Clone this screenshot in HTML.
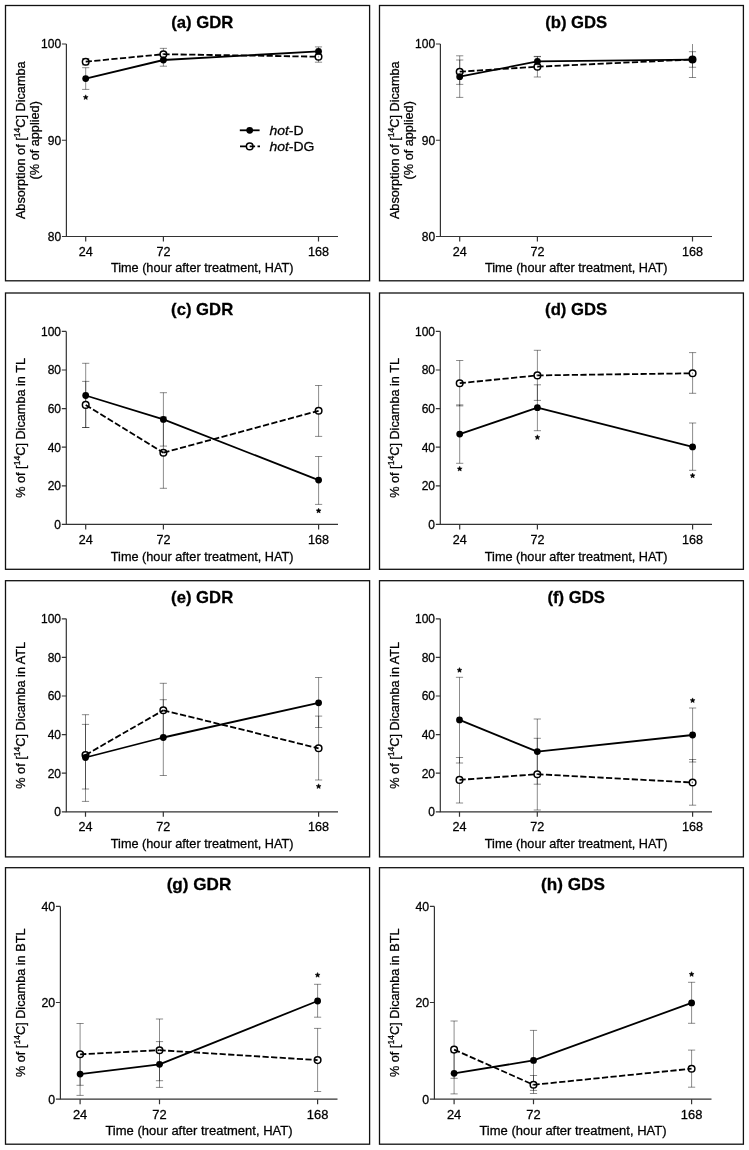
<!DOCTYPE html>
<html><head><meta charset="utf-8"><style>
html,body{margin:0;padding:0;background:#fff;}
svg{display:block;will-change:transform;}
text{font-family:"Liberation Sans", sans-serif;fill:#000;stroke:#000;stroke-width:0.28px;}
</style></head><body>
<svg width="749" height="1150" viewBox="0 0 749 1150">
<rect width="749" height="1150" fill="#fff"/>
<rect x="5.5" y="5.5" width="364.1" height="275.3" fill="none" stroke="#111" stroke-width="1.3"/>
<text x="202.2" y="28" text-anchor="middle" font-size="16.7" font-weight="bold">(a) GDR</text>
<path d="M66.4 44V236.5H338" fill="none" stroke="#333" stroke-width="1.2"/>
<text x="61.1" y="48.4" text-anchor="end" font-size="12">100</text>
<text x="61.1" y="144.65" text-anchor="end" font-size="12">90</text>
<text x="61.1" y="240.9" text-anchor="end" font-size="12">80</text>
<text x="85.7" y="256.1" text-anchor="middle" font-size="12.6">24</text>
<text x="163.4" y="256.1" text-anchor="middle" font-size="12.6">72</text>
<text x="318.5" y="256.1" text-anchor="middle" font-size="12.6">168</text>
<path d="M61.9 44H66.4M61.9 140.25H66.4M61.9 236.5H66.4M85.7 236.5V241.5M163.4 236.5V241.5M318.5 236.5V241.5" stroke="#333" stroke-width="1.2"/>
<text x="202.2" y="271.8" text-anchor="middle" font-size="12.7">Time (hour after treatment, HAT)</text>
<text transform="translate(24.9,140.25) rotate(-90)" text-anchor="middle" font-size="12.7">Absorption of [<tspan font-size="8.64" dy="-4.5">14</tspan><tspan dy="4.5">C] Dicamba</tspan></text>
<text transform="translate(39.3,140.25) rotate(-90)" text-anchor="middle" font-size="12.7">(% of applied)</text>
<path d="M85.7 67.7V89.4M82.1 67.7H89.3M82.1 89.4H89.3M163.4 53.8V66.2M159.8 53.8H167M159.8 66.2H167M318.5 46.9V55.9M314.9 46.9H322.1M314.9 55.9H322.1" stroke="#000" stroke-opacity="0.45" stroke-width="1.0" fill="none"/>
<path d="M85.7 58.5V64.9M82.1 58.5H89.3M82.1 64.9H89.3M163.4 48.35V60.05M159.8 48.35H167M159.8 60.05H167M318.5 51.2V62.2M314.9 51.2H322.1M314.9 62.2H322.1" stroke="#000" stroke-opacity="0.45" stroke-width="1.0" fill="none"/>
<circle cx="85.7" cy="61.7" r="3.3" fill="#fff" stroke="#000" stroke-width="1.5"/>
<circle cx="163.4" cy="54.2" r="3.3" fill="#fff" stroke="#000" stroke-width="1.5"/>
<circle cx="318.5" cy="56.7" r="3.3" fill="#fff" stroke="#000" stroke-width="1.5"/>
<path d="M85.7 61.7L163.4 54.2" stroke="#000" stroke-width="1.8" stroke-dasharray="6.2 2.4"/>
<path d="M163.4 54.2L318.5 56.7" stroke="#000" stroke-width="1.8" stroke-dasharray="6.2 2.4"/>
<circle cx="85.7" cy="78.6" r="3.4" fill="#000"/>
<circle cx="163.4" cy="60" r="3.4" fill="#000"/>
<circle cx="318.5" cy="51.4" r="3.4" fill="#000"/>
<path d="M85.7 78.6L163.4 60" stroke="#000" stroke-width="1.8"/>
<path d="M163.4 60L318.5 51.4" stroke="#000" stroke-width="1.8"/>
<polygon points="85.7,94.8 86.41,96.43 88.17,96.6 86.84,97.77 87.23,99.5 85.7,98.6 84.17,99.5 84.56,97.77 83.23,96.6 84.99,96.43" fill="#000" stroke="#000" stroke-width="0.5" stroke-linejoin="round"/>
<rect x="379.5" y="5.5" width="363.9" height="275.3" fill="none" stroke="#111" stroke-width="1.3"/>
<text x="576.2" y="28" text-anchor="middle" font-size="16.7" font-weight="bold">(b) GDS</text>
<path d="M440.4 44V236.5H712" fill="none" stroke="#333" stroke-width="1.2"/>
<text x="435.1" y="48.4" text-anchor="end" font-size="12">100</text>
<text x="435.1" y="144.65" text-anchor="end" font-size="12">90</text>
<text x="435.1" y="240.9" text-anchor="end" font-size="12">80</text>
<text x="459.7" y="256.1" text-anchor="middle" font-size="12.6">24</text>
<text x="537.4" y="256.1" text-anchor="middle" font-size="12.6">72</text>
<text x="692.5" y="256.1" text-anchor="middle" font-size="12.6">168</text>
<path d="M435.9 44H440.4M435.9 140.25H440.4M435.9 236.5H440.4M459.7 236.5V241.5M537.4 236.5V241.5M692.5 236.5V241.5" stroke="#333" stroke-width="1.2"/>
<text x="576.2" y="271.8" text-anchor="middle" font-size="12.7">Time (hour after treatment, HAT)</text>
<text transform="translate(398.9,140.25) rotate(-90)" text-anchor="middle" font-size="12.7">Absorption of [<tspan font-size="8.64" dy="-4.5">14</tspan><tspan dy="4.5">C] Dicamba</tspan></text>
<text transform="translate(413.3,140.25) rotate(-90)" text-anchor="middle" font-size="12.7">(% of applied)</text>
<path d="M459.7 55.8V97.4M456.1 55.8H463.3M456.1 97.4H463.3M537.4 56.7V66.1M533.8 56.7H541M533.8 66.1H541M692.5 44V77.5M688.9 77.5H696.1" stroke="#000" stroke-opacity="0.45" stroke-width="1.0" fill="none"/>
<path d="M459.7 60V84.4M456.1 60H463.3M456.1 84.4H463.3M537.4 56.4V77M533.8 56.4H541M533.8 77H541M692.5 51.7V67.25M688.9 51.7H696.1M688.9 67.25H696.1" stroke="#000" stroke-opacity="0.45" stroke-width="1.0" fill="none"/>
<circle cx="459.7" cy="71.7" r="3.3" fill="#fff" stroke="#000" stroke-width="1.5"/>
<circle cx="537.4" cy="66.7" r="3.3" fill="#fff" stroke="#000" stroke-width="1.5"/>
<circle cx="692.5" cy="59.5" r="3.3" fill="#fff" stroke="#000" stroke-width="1.5"/>
<path d="M459.7 71.7L537.4 66.7" stroke="#000" stroke-width="1.8" stroke-dasharray="6.2 2.4"/>
<path d="M537.4 66.7L692.5 59.5" stroke="#000" stroke-width="1.8" stroke-dasharray="6.2 2.4"/>
<circle cx="459.7" cy="76.7" r="3.4" fill="#000"/>
<circle cx="537.4" cy="61.4" r="3.4" fill="#000"/>
<circle cx="692.5" cy="59.6" r="3.4" fill="#000"/>
<path d="M459.7 76.7L537.4 61.4" stroke="#000" stroke-width="1.8"/>
<path d="M537.4 61.4L692.5 59.6" stroke="#000" stroke-width="1.8"/>
<rect x="5.5" y="293" width="364.1" height="276.3" fill="none" stroke="#111" stroke-width="1.3"/>
<text x="202.15" y="315.3" text-anchor="middle" font-size="16.7" font-weight="bold">(c) GDR</text>
<path d="M66.3 331.4V524.4H338" fill="none" stroke="#333" stroke-width="1.2"/>
<text x="61" y="335.8" text-anchor="end" font-size="12">100</text>
<text x="61" y="374.4" text-anchor="end" font-size="12">80</text>
<text x="61" y="413" text-anchor="end" font-size="12">60</text>
<text x="61" y="451.6" text-anchor="end" font-size="12">40</text>
<text x="61" y="490.2" text-anchor="end" font-size="12">20</text>
<text x="61" y="528.8" text-anchor="end" font-size="12">0</text>
<text x="85.7" y="544" text-anchor="middle" font-size="12.6">24</text>
<text x="163.4" y="544" text-anchor="middle" font-size="12.6">72</text>
<text x="318.6" y="544" text-anchor="middle" font-size="12.6">168</text>
<path d="M61.8 331.4H66.3M61.8 370H66.3M61.8 408.6H66.3M61.8 447.2H66.3M61.8 485.8H66.3M61.8 524.4H66.3M85.7 524.4V529.4M163.4 524.4V529.4M318.6 524.4V529.4" stroke="#333" stroke-width="1.2"/>
<text x="202.15" y="560.6" text-anchor="middle" font-size="12.7">Time (hour after treatment, HAT)</text>
<text transform="translate(24.9,427.9) rotate(-90)" text-anchor="middle" font-size="12.7">% of [<tspan font-size="8.64" dy="-4.5">14</tspan><tspan dy="4.5">C] Dicamba in TL</tspan></text>
<path d="M85.7 363.3V427.5M82.1 363.3H89.3M82.1 427.5H89.3M163.4 392.7V446.1M159.8 392.7H167M159.8 446.1H167M318.6 456.5V504.4M315 456.5H322.2M315 504.4H322.2" stroke="#000" stroke-opacity="0.45" stroke-width="1.0" fill="none"/>
<path d="M85.7 381.4V427.5M82.1 381.4H89.3M82.1 427.5H89.3M163.4 417.1V488.3M159.8 417.1H167M159.8 488.3H167M318.6 385.5V436.4M315 385.5H322.2M315 436.4H322.2" stroke="#000" stroke-opacity="0.45" stroke-width="1.0" fill="none"/>
<circle cx="85.7" cy="404.9" r="3.3" fill="#fff" stroke="#000" stroke-width="1.5"/>
<circle cx="163.4" cy="452.7" r="3.3" fill="#fff" stroke="#000" stroke-width="1.5"/>
<circle cx="318.6" cy="410.8" r="3.3" fill="#fff" stroke="#000" stroke-width="1.5"/>
<path d="M85.7 404.9L163.4 452.7" stroke="#000" stroke-width="1.8" stroke-dasharray="6.2 2.4"/>
<path d="M163.4 452.7L318.6 410.8" stroke="#000" stroke-width="1.8" stroke-dasharray="6.2 2.4"/>
<circle cx="85.7" cy="395.5" r="3.4" fill="#000"/>
<circle cx="163.4" cy="419.4" r="3.4" fill="#000"/>
<circle cx="318.6" cy="480.1" r="3.4" fill="#000"/>
<path d="M85.7 395.5L163.4 419.4" stroke="#000" stroke-width="1.8"/>
<path d="M163.4 419.4L318.6 480.1" stroke="#000" stroke-width="1.8"/>
<polygon points="318.6,508.2 319.31,509.83 321.07,510 319.74,511.17 320.13,512.9 318.6,512 317.07,512.9 317.46,511.17 316.13,510 317.89,509.83" fill="#000" stroke="#000" stroke-width="0.5" stroke-linejoin="round"/>
<rect x="379.5" y="293" width="363.9" height="276.3" fill="none" stroke="#111" stroke-width="1.3"/>
<text x="576.15" y="315.3" text-anchor="middle" font-size="16.7" font-weight="bold">(d) GDS</text>
<path d="M440.3 331.4V524.4H712" fill="none" stroke="#333" stroke-width="1.2"/>
<text x="435" y="335.8" text-anchor="end" font-size="12">100</text>
<text x="435" y="374.4" text-anchor="end" font-size="12">80</text>
<text x="435" y="413" text-anchor="end" font-size="12">60</text>
<text x="435" y="451.6" text-anchor="end" font-size="12">40</text>
<text x="435" y="490.2" text-anchor="end" font-size="12">20</text>
<text x="435" y="528.8" text-anchor="end" font-size="12">0</text>
<text x="459.7" y="544" text-anchor="middle" font-size="12.6">24</text>
<text x="537.4" y="544" text-anchor="middle" font-size="12.6">72</text>
<text x="692.6" y="544" text-anchor="middle" font-size="12.6">168</text>
<path d="M435.8 331.4H440.3M435.8 370H440.3M435.8 408.6H440.3M435.8 447.2H440.3M435.8 485.8H440.3M435.8 524.4H440.3M459.7 524.4V529.4M537.4 524.4V529.4M692.6 524.4V529.4" stroke="#333" stroke-width="1.2"/>
<text x="576.15" y="560.6" text-anchor="middle" font-size="12.7">Time (hour after treatment, HAT)</text>
<text transform="translate(398.9,427.9) rotate(-90)" text-anchor="middle" font-size="12.7">% of [<tspan font-size="8.64" dy="-4.5">14</tspan><tspan dy="4.5">C] Dicamba in TL</tspan></text>
<path d="M459.7 404.9V463.3M456.1 404.9H463.3M456.1 463.3H463.3M537.4 384.8V430.7M533.8 384.8H541M533.8 430.7H541M692.6 423V470.3M689 423H696.2M689 470.3H696.2" stroke="#000" stroke-opacity="0.45" stroke-width="1.0" fill="none"/>
<path d="M459.7 360.5V405.9M456.1 360.5H463.3M456.1 405.9H463.3M537.4 350.3V400.4M533.8 350.3H541M533.8 400.4H541M692.6 352.6V393.3M689 352.6H696.2M689 393.3H696.2" stroke="#000" stroke-opacity="0.45" stroke-width="1.0" fill="none"/>
<circle cx="459.7" cy="383.2" r="3.3" fill="#fff" stroke="#000" stroke-width="1.5"/>
<circle cx="537.4" cy="375.4" r="3.3" fill="#fff" stroke="#000" stroke-width="1.5"/>
<circle cx="692.6" cy="373.3" r="3.3" fill="#fff" stroke="#000" stroke-width="1.5"/>
<path d="M459.7 383.2L537.4 375.4" stroke="#000" stroke-width="1.8" stroke-dasharray="6.2 2.4"/>
<path d="M537.4 375.4L692.6 373.3" stroke="#000" stroke-width="1.8" stroke-dasharray="6.2 2.4"/>
<circle cx="459.7" cy="434.1" r="3.4" fill="#000"/>
<circle cx="537.4" cy="407.7" r="3.4" fill="#000"/>
<circle cx="692.6" cy="446.9" r="3.4" fill="#000"/>
<path d="M459.7 434.1L537.4 407.7" stroke="#000" stroke-width="1.8"/>
<path d="M537.4 407.7L692.6 446.9" stroke="#000" stroke-width="1.8"/>
<polygon points="459.7,466.3 460.41,467.93 462.17,468.1 460.84,469.27 461.23,471 459.7,470.1 458.17,471 458.56,469.27 457.23,468.1 458.99,467.93" fill="#000" stroke="#000" stroke-width="0.5" stroke-linejoin="round"/>
<polygon points="537.4,434.8 538.11,436.43 539.87,436.6 538.54,437.77 538.93,439.5 537.4,438.6 535.87,439.5 536.26,437.77 534.93,436.6 536.69,436.43" fill="#000" stroke="#000" stroke-width="0.5" stroke-linejoin="round"/>
<polygon points="692.6,473.1 693.31,474.73 695.07,474.9 693.74,476.07 694.13,477.8 692.6,476.9 691.07,477.8 691.46,476.07 690.13,474.9 691.89,474.73" fill="#000" stroke="#000" stroke-width="0.5" stroke-linejoin="round"/>
<rect x="5.5" y="580.7" width="364.1" height="276.2" fill="none" stroke="#111" stroke-width="1.3"/>
<text x="202.15" y="602.8" text-anchor="middle" font-size="16.7" font-weight="bold">(e) GDR</text>
<path d="M66.3 618.8V811.8H338" fill="none" stroke="#333" stroke-width="1.2"/>
<text x="61" y="623.2" text-anchor="end" font-size="12">100</text>
<text x="61" y="661.8" text-anchor="end" font-size="12">80</text>
<text x="61" y="700.4" text-anchor="end" font-size="12">60</text>
<text x="61" y="739" text-anchor="end" font-size="12">40</text>
<text x="61" y="777.6" text-anchor="end" font-size="12">20</text>
<text x="61" y="816.2" text-anchor="end" font-size="12">0</text>
<text x="85.5" y="831.4" text-anchor="middle" font-size="12.6">24</text>
<text x="163.3" y="831.4" text-anchor="middle" font-size="12.6">72</text>
<text x="318.6" y="831.4" text-anchor="middle" font-size="12.6">168</text>
<path d="M61.8 618.8H66.3M61.8 657.4H66.3M61.8 696H66.3M61.8 734.6H66.3M61.8 773.2H66.3M61.8 811.8H66.3M85.5 811.8V816.8M163.3 811.8V816.8M318.6 811.8V816.8" stroke="#333" stroke-width="1.2"/>
<text x="202.15" y="847.6" text-anchor="middle" font-size="12.7">Time (hour after treatment, HAT)</text>
<text transform="translate(24.9,715.3) rotate(-90)" text-anchor="middle" font-size="12.7">% of [<tspan font-size="8.64" dy="-4.5">14</tspan><tspan dy="4.5">C] Dicamba in ATL</tspan></text>
<path d="M85.5 714.7V801.4M81.9 714.7H89.1M81.9 801.4H89.1M163.3 699.7V775.5M159.7 699.7H166.9M159.7 775.5H166.9M318.6 677.5V727.5M315 677.5H322.2M315 727.5H322.2" stroke="#000" stroke-opacity="0.45" stroke-width="1.0" fill="none"/>
<path d="M85.5 724.4V789M81.9 724.4H89.1M81.9 789H89.1M163.3 683.3V737.3M159.7 683.3H166.9M159.7 737.3H166.9M318.6 716.1V780M315 716.1H322.2M315 780H322.2" stroke="#000" stroke-opacity="0.45" stroke-width="1.0" fill="none"/>
<circle cx="85.5" cy="755" r="3.3" fill="#fff" stroke="#000" stroke-width="1.5"/>
<circle cx="163.3" cy="710.3" r="3.3" fill="#fff" stroke="#000" stroke-width="1.5"/>
<circle cx="318.6" cy="748.3" r="3.3" fill="#fff" stroke="#000" stroke-width="1.5"/>
<path d="M85.5 755L163.3 710.3" stroke="#000" stroke-width="1.8" stroke-dasharray="6.2 2.4"/>
<path d="M163.3 710.3L318.6 748.3" stroke="#000" stroke-width="1.8" stroke-dasharray="6.2 2.4"/>
<circle cx="85.5" cy="757.5" r="3.4" fill="#000"/>
<circle cx="163.3" cy="737.5" r="3.4" fill="#000"/>
<circle cx="318.6" cy="702.8" r="3.4" fill="#000"/>
<path d="M85.5 757.5L163.3 737.5" stroke="#000" stroke-width="1.8"/>
<path d="M163.3 737.5L318.6 702.8" stroke="#000" stroke-width="1.8"/>
<polygon points="318.6,783.8 319.31,785.43 321.07,785.6 319.74,786.77 320.13,788.5 318.6,787.6 317.07,788.5 317.46,786.77 316.13,785.6 317.89,785.43" fill="#000" stroke="#000" stroke-width="0.5" stroke-linejoin="round"/>
<rect x="379.5" y="580.7" width="363.9" height="276.2" fill="none" stroke="#111" stroke-width="1.3"/>
<text x="576.15" y="602.8" text-anchor="middle" font-size="16.7" font-weight="bold">(f) GDS</text>
<path d="M440.3 618.8V811.8H712" fill="none" stroke="#333" stroke-width="1.2"/>
<text x="435" y="623.2" text-anchor="end" font-size="12">100</text>
<text x="435" y="661.8" text-anchor="end" font-size="12">80</text>
<text x="435" y="700.4" text-anchor="end" font-size="12">60</text>
<text x="435" y="739" text-anchor="end" font-size="12">40</text>
<text x="435" y="777.6" text-anchor="end" font-size="12">20</text>
<text x="435" y="816.2" text-anchor="end" font-size="12">0</text>
<text x="459.5" y="831.4" text-anchor="middle" font-size="12.6">24</text>
<text x="537.3" y="831.4" text-anchor="middle" font-size="12.6">72</text>
<text x="692.6" y="831.4" text-anchor="middle" font-size="12.6">168</text>
<path d="M435.8 618.8H440.3M435.8 657.4H440.3M435.8 696H440.3M435.8 734.6H440.3M435.8 773.2H440.3M435.8 811.8H440.3M459.5 811.8V816.8M537.3 811.8V816.8M692.6 811.8V816.8" stroke="#333" stroke-width="1.2"/>
<text x="576.15" y="847.6" text-anchor="middle" font-size="12.7">Time (hour after treatment, HAT)</text>
<text transform="translate(398.9,715.3) rotate(-90)" text-anchor="middle" font-size="12.7">% of [<tspan font-size="8.64" dy="-4.5">14</tspan><tspan dy="4.5">C] Dicamba in ATL</tspan></text>
<path d="M459.5 677.3V763M455.9 677.3H463.1M455.9 763H463.1M537.3 719V784.2M533.7 719H540.9M533.7 784.2H540.9M692.6 708V762M689 708H696.2M689 762H696.2" stroke="#000" stroke-opacity="0.45" stroke-width="1.0" fill="none"/>
<path d="M459.5 757.5V803M455.9 757.5H463.1M455.9 803H463.1M537.3 738.3V810M533.7 738.3H540.9M533.7 810H540.9M692.6 759.5V805.2M689 759.5H696.2M689 805.2H696.2" stroke="#000" stroke-opacity="0.45" stroke-width="1.0" fill="none"/>
<circle cx="459.5" cy="779.9" r="3.3" fill="#fff" stroke="#000" stroke-width="1.5"/>
<circle cx="537.3" cy="774.2" r="3.3" fill="#fff" stroke="#000" stroke-width="1.5"/>
<circle cx="692.6" cy="782.5" r="3.3" fill="#fff" stroke="#000" stroke-width="1.5"/>
<path d="M459.5 779.9L537.3 774.2" stroke="#000" stroke-width="1.8" stroke-dasharray="6.2 2.4"/>
<path d="M537.3 774.2L692.6 782.5" stroke="#000" stroke-width="1.8" stroke-dasharray="6.2 2.4"/>
<circle cx="459.5" cy="719.9" r="3.4" fill="#000"/>
<circle cx="537.3" cy="751.6" r="3.4" fill="#000"/>
<circle cx="692.6" cy="735" r="3.4" fill="#000"/>
<path d="M459.5 719.9L537.3 751.6" stroke="#000" stroke-width="1.8"/>
<path d="M537.3 751.6L692.6 735" stroke="#000" stroke-width="1.8"/>
<polygon points="459.5,667.6 460.21,669.23 461.97,669.4 460.64,670.57 461.03,672.3 459.5,671.4 457.97,672.3 458.36,670.57 457.03,669.4 458.79,669.23" fill="#000" stroke="#000" stroke-width="0.5" stroke-linejoin="round"/>
<polygon points="692.6,697.9 693.31,699.53 695.07,699.7 693.74,700.87 694.13,702.6 692.6,701.7 691.07,702.6 691.46,700.87 690.13,699.7 691.89,699.53" fill="#000" stroke="#000" stroke-width="0.5" stroke-linejoin="round"/>
<rect x="5.5" y="867.7" width="364.1" height="276.5" fill="none" stroke="#111" stroke-width="1.3"/>
<text transform="translate(198.95,890) scale(1.025,1)" text-anchor="middle" font-size="16.7" font-weight="bold">(g) GDR</text>
<path d="M60.4 906.4V1099.2H337.5" fill="none" stroke="#333" stroke-width="1.2"/>
<text transform="translate(55.1,910.8) scale(1.025,1)" text-anchor="end" font-size="12">40</text>
<text transform="translate(55.1,1006.9) scale(1.025,1)" text-anchor="end" font-size="12">20</text>
<text transform="translate(55.1,1103.6) scale(1.025,1)" text-anchor="end" font-size="12">0</text>
<text transform="translate(80.1,1118.8) scale(1.025,1)" text-anchor="middle" font-size="12.6">24</text>
<text transform="translate(159.5,1118.8) scale(1.025,1)" text-anchor="middle" font-size="12.6">72</text>
<text transform="translate(317.6,1118.8) scale(1.025,1)" text-anchor="middle" font-size="12.6">168</text>
<path d="M55.9 906.4H60.4M55.9 1002.5H60.4M55.9 1099.2H60.4M80.1 1099.2V1104.2M159.5 1099.2V1104.2M317.6 1099.2V1104.2" stroke="#333" stroke-width="1.2"/>
<text transform="translate(198.95,1134.6) scale(1.025,1)" text-anchor="middle" font-size="12.7">Time (hour after treatment, HAT)</text>
<text transform="translate(24.9,1002.8) rotate(-90)" text-anchor="middle" font-size="12.7">% of [<tspan font-size="8.64" dy="-4.5">14</tspan><tspan dy="4.5">C] Dicamba in BTL</tspan></text>
<path d="M80.1 1052.8V1095.4M76.5 1052.8H83.7M76.5 1095.4H83.7M159.5 1041.6V1087.4M155.9 1041.6H163.1M155.9 1087.4H163.1M317.6 984.3V1017.2M314 984.3H321.2M314 1017.2H321.2" stroke="#000" stroke-opacity="0.45" stroke-width="1.0" fill="none"/>
<path d="M80.1 1023.5V1085.3M76.5 1023.5H83.7M76.5 1085.3H83.7M159.5 1019V1080.7M155.9 1019H163.1M155.9 1080.7H163.1M317.6 1028.4V1091.5M314 1028.4H321.2M314 1091.5H321.2" stroke="#000" stroke-opacity="0.45" stroke-width="1.0" fill="none"/>
<circle cx="80.1" cy="1054.3" r="3.3" fill="#fff" stroke="#000" stroke-width="1.5"/>
<circle cx="159.5" cy="1050.2" r="3.3" fill="#fff" stroke="#000" stroke-width="1.5"/>
<circle cx="317.6" cy="1060.1" r="3.3" fill="#fff" stroke="#000" stroke-width="1.5"/>
<path d="M80.1 1054.3L159.5 1050.2" stroke="#000" stroke-width="1.8" stroke-dasharray="6.2 2.4"/>
<path d="M159.5 1050.2L317.6 1060.1" stroke="#000" stroke-width="1.8" stroke-dasharray="6.2 2.4"/>
<circle cx="80.1" cy="1074.1" r="3.4" fill="#000"/>
<circle cx="159.5" cy="1064.3" r="3.4" fill="#000"/>
<circle cx="317.6" cy="1001" r="3.4" fill="#000"/>
<path d="M80.1 1074.1L159.5 1064.3" stroke="#000" stroke-width="1.8"/>
<path d="M159.5 1064.3L317.6 1001" stroke="#000" stroke-width="1.8"/>
<polygon points="317.6,972.5 318.31,974.13 320.07,974.3 318.74,975.47 319.13,977.2 317.6,976.3 316.07,977.2 316.46,975.47 315.13,974.3 316.89,974.13" fill="#000" stroke="#000" stroke-width="0.5" stroke-linejoin="round"/>
<rect x="379.5" y="867.7" width="363.9" height="276.5" fill="none" stroke="#111" stroke-width="1.3"/>
<text transform="translate(572.95,890) scale(1.025,1)" text-anchor="middle" font-size="16.7" font-weight="bold">(h) GDS</text>
<path d="M434.4 906.4V1099.2H711.5" fill="none" stroke="#333" stroke-width="1.2"/>
<text transform="translate(429.1,910.8) scale(1.025,1)" text-anchor="end" font-size="12">40</text>
<text transform="translate(429.1,1006.9) scale(1.025,1)" text-anchor="end" font-size="12">20</text>
<text transform="translate(429.1,1103.6) scale(1.025,1)" text-anchor="end" font-size="12">0</text>
<text transform="translate(454.1,1118.8) scale(1.025,1)" text-anchor="middle" font-size="12.6">24</text>
<text transform="translate(533.5,1118.8) scale(1.025,1)" text-anchor="middle" font-size="12.6">72</text>
<text transform="translate(691.6,1118.8) scale(1.025,1)" text-anchor="middle" font-size="12.6">168</text>
<path d="M429.9 906.4H434.4M429.9 1002.5H434.4M429.9 1099.2H434.4M454.1 1099.2V1104.2M533.5 1099.2V1104.2M691.6 1099.2V1104.2" stroke="#333" stroke-width="1.2"/>
<text transform="translate(572.95,1134.6) scale(1.025,1)" text-anchor="middle" font-size="12.7">Time (hour after treatment, HAT)</text>
<text transform="translate(398.9,1002.8) rotate(-90)" text-anchor="middle" font-size="12.7">% of [<tspan font-size="8.64" dy="-4.5">14</tspan><tspan dy="4.5">C] Dicamba in BTL</tspan></text>
<path d="M454.1 1052.7V1093.9M450.5 1052.7H457.7M450.5 1093.9H457.7M533.5 1030.4V1090.4M529.9 1030.4H537.1M529.9 1090.4H537.1M691.6 982.3V1023.3M688 982.3H695.2M688 1023.3H695.2" stroke="#000" stroke-opacity="0.45" stroke-width="1.0" fill="none"/>
<path d="M454.1 1021V1078.3M450.5 1021H457.7M450.5 1078.3H457.7M533.5 1075.5V1093.5M529.9 1075.5H537.1M529.9 1093.5H537.1M691.6 1050.1V1087.2M688 1050.1H695.2M688 1087.2H695.2" stroke="#000" stroke-opacity="0.45" stroke-width="1.0" fill="none"/>
<circle cx="454.1" cy="1049.6" r="3.3" fill="#fff" stroke="#000" stroke-width="1.5"/>
<circle cx="533.5" cy="1084.8" r="3.3" fill="#fff" stroke="#000" stroke-width="1.5"/>
<circle cx="691.6" cy="1068.7" r="3.3" fill="#fff" stroke="#000" stroke-width="1.5"/>
<path d="M454.1 1049.6L533.5 1084.8" stroke="#000" stroke-width="1.8" stroke-dasharray="6.2 2.4"/>
<path d="M533.5 1084.8L691.6 1068.7" stroke="#000" stroke-width="1.8" stroke-dasharray="6.2 2.4"/>
<circle cx="454.1" cy="1073.3" r="3.4" fill="#000"/>
<circle cx="533.5" cy="1060.4" r="3.4" fill="#000"/>
<circle cx="691.6" cy="1002.9" r="3.4" fill="#000"/>
<path d="M454.1 1073.3L533.5 1060.4" stroke="#000" stroke-width="1.8"/>
<path d="M533.5 1060.4L691.6 1002.9" stroke="#000" stroke-width="1.8"/>
<polygon points="691.6,971.7 692.31,973.33 694.07,973.5 692.74,974.67 693.13,976.4 691.6,975.5 690.07,976.4 690.46,974.67 689.13,973.5 690.89,973.33" fill="#000" stroke="#000" stroke-width="0.5" stroke-linejoin="round"/>
<path d="M239.8 130.3H259.6" stroke="#000" stroke-width="1.8"/>
<circle cx="249.7" cy="130.3" r="3.4" fill="#000"/>
<path d="M240 146.4H249.7" stroke="#000" stroke-width="1.8" stroke-dasharray="6.2 2.4"/>
<circle cx="249.7" cy="146.4" r="3.3" fill="#fff" stroke="#000" stroke-width="1.5"/>
<path d="M249.7 146.4H260" stroke="#000" stroke-width="1.8" stroke-dasharray="5.4 2.4"/>
<text transform="translate(269.4,135.2) scale(1.06,1)" font-size="13.2"><tspan font-style="italic">hot</tspan>-D</text>
<text transform="translate(269.4,150.9) scale(1.06,1)" font-size="13.2"><tspan font-style="italic">hot</tspan>-DG</text>
</svg>
</body></html>
